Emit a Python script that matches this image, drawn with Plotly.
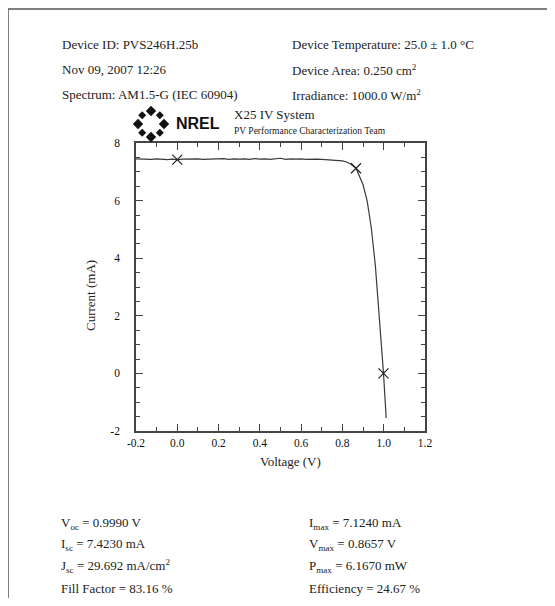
import math
import plotly.graph_objects as go

# ---- data ----
voltage = [-0.20, -0.175, -0.15, -0.125, -0.10, -0.075, -0.05, -0.025, 0.00, 0.025,
           0.05, 0.075, 0.10, 0.125, 0.15, 0.175, 0.20, 0.225, 0.25, 0.275,
           0.30, 0.325, 0.35, 0.375, 0.40, 0.425, 0.45, 0.475, 0.50, 0.525,
           0.55, 0.575, 0.60, 0.625, 0.65, 0.675, 0.70, 0.725, 0.75, 0.775,
           0.80, 0.82, 0.84, 0.8657, 0.88, 0.90, 0.92, 0.94, 0.96, 0.98,
           0.999, 1.012]
current = [7.45, 7.44, 7.45, 7.43, 7.45, 7.44, 7.42, 7.44, 7.423, 7.44,
           7.45, 7.44, 7.45, 7.43, 7.44, 7.45, 7.44, 7.46, 7.43, 7.45,
           7.44, 7.45, 7.43, 7.46, 7.44, 7.45, 7.43, 7.44, 7.47, 7.43,
           7.45, 7.44, 7.45, 7.43, 7.44, 7.44, 7.43, 7.42, 7.41, 7.40,
           7.38, 7.34, 7.27, 7.124, 6.90, 6.55, 5.98, 5.05, 3.70, 1.95,
           0.00, -1.55]

key_v = [0.0, 0.8657, 0.999]
key_i = [7.423, 7.124, 0.0]

x_ticks = [-0.2, 0.0, 0.2, 0.4, 0.6, 0.8, 1.0, 1.2]
x_tick_labels = ["-0.2", "0.0", "0.2", "0.4", "0.6", "0.8", "1.0", "1.2"]
y_ticks = [-2, 0, 2, 4, 6, 8]
y_tick_labels = ["-2", "0", "2", "4", "6", "8"]

header_left = ["Device ID: PVS246H.25b", "Nov 09, 2007 12:26", "Spectrum: AM1.5-G (IEC 60904)"]
header_right = ["Device Temperature: 25.0 ± 1.0 °C", "Device Area: 0.250 cm<sup>2</sup>",
                "Irradiance: 1000.0 W/m<sup>2</sup>"]
footer_left = ["V<sub>oc</sub> = 0.9990 V", "I<sub>sc</sub> = 7.4230 mA",
               "J<sub>sc</sub> = 29.692 mA/cm<sup>2</sup>", "Fill Factor = 83.16 %"]
footer_right = ["I<sub>max</sub> = 7.1240 mA", "V<sub>max</sub> = 0.8657 V",
                "P<sub>max</sub> = 6.1670 mW", "Efficiency = 24.67 %"]

# ---- layout geometry (window pixels; page body has an 8px margin) ----
OFF = 8
W, H = 555 - 2 * OFF, 606 - 2 * OFF
L, R, T, B = 136, 425, 143, 431      # plot area in window pixels
FONT = "Liberation Serif"
INK = "#222222"


def px(x):
    return (x - L) / (R - L)


def py(y):
    return (B - y) / (B - T)


fig = go.Figure()
fig.add_trace(go.Scatter(x=voltage, y=current, mode="lines",
                         line=dict(color="#3a3a3a", width=1.2), hoverinfo="skip"))
fig.add_trace(go.Scatter(x=key_v, y=key_i, mode="markers",
                         marker=dict(symbol="x-thin-open", size=10, color="#222222",
                                     line=dict(color="#222222", width=1.2))))

ann = []


def text(x, y, s, size=13, anchor="left", angle=0, family=FONT, color=INK):
    ann.append(dict(x=px(x), y=py(y), xref="paper", yref="paper", text=s,
                    showarrow=False, xanchor=anchor, yanchor="middle", textangle=angle,
                    font=dict(family=family, size=size, color=color)))


for i, s in enumerate(header_left):
    text(60, 44 + i * 25.5, s)
for i, s in enumerate(header_right):
    text(290, 44 + i * 25.5, s)
for i, s in enumerate(footer_left):
    text(59, 523 + i * 21.7, s)
for i, s in enumerate(footer_right):
    text(307, 523 + i * 21.7, s)

text(232, 114, "X25 IV System", size=13)
text(232, 131, "PV Performance Characterization Team", size=9.5)
text(174, 124, "<b>NREL</b>", size=16, family="Liberation Sans", color="#111111")

text(290, 461, "Voltage (V)", size=13, anchor="center")
text(90, 296, "Current (mA)", size=13, anchor="center", angle=-90)

shapes = []
# page border (top and left)
shapes.append(dict(type="line", xref="paper", yref="paper",
                   x0=px(8), x1=px(570), y0=py(9), y1=py(9),
                   line=dict(color="#555555", width=1.5)))
shapes.append(dict(type="line", xref="paper", yref="paper",
                   x0=px(8), x1=px(8), y0=py(9), y1=py(620),
                   line=dict(color="#555555", width=1.5)))

# NREL sun logo: ring of diamonds around a white centre
cx, cy = 151, 124
for k in range(8):
    a = math.radians(90 - k * 45)
    big = k % 2 == 0
    r = 13 if big else 12.5
    s = 5.2 if big else 4.0
    dx, dy = cx + r * math.cos(a), cy - r * math.sin(a)
    path = "M {},{} L {},{} L {},{} L {},{} Z".format(
        px(dx), py(dy - s), px(dx + s), py(dy), px(dx), py(dy + s), px(dx - s), py(dy))
    shapes.append(dict(type="path", xref="paper", yref="paper", path=path,
                       fillcolor="#111111", line=dict(width=0)))

tick_font = dict(family=FONT, size=11.5, color="#111111")
fig.update_layout(
    width=W, height=H,
    margin=dict(l=L - OFF, r=W - (R - OFF), t=T - OFF, b=H - (B - OFF)),
    paper_bgcolor="white", plot_bgcolor="white",
    showlegend=False,
    annotations=ann, shapes=shapes,
    xaxis=dict(range=[-0.2, 1.2], tickvals=x_ticks, ticktext=x_tick_labels,
               ticks="inside", ticklen=7, tickwidth=1, tickcolor="#444444",
               showline=True, linecolor="#444444", linewidth=1.5, mirror="allticks",
               showgrid=False, zeroline=False, tickfont=tick_font,
               minor=dict(ticks="inside", ticklen=4, dtick=0.1, tickcolor="#444444",
                          showgrid=False)),
    yaxis=dict(range=[-2, 8], tickvals=y_ticks, ticktext=y_tick_labels,
               ticks="inside", ticklen=7, tickwidth=1, tickcolor="#444444",
               showline=True, linecolor="#444444", linewidth=1.5, mirror="allticks",
               showgrid=False, zeroline=False, tickfont=tick_font,
               ticklabelstandoff=12,
               minor=dict(ticks="inside", ticklen=4, dtick=0.5, tickcolor="#444444",
                          showgrid=False)),
)

fig.write_html("out.html")
